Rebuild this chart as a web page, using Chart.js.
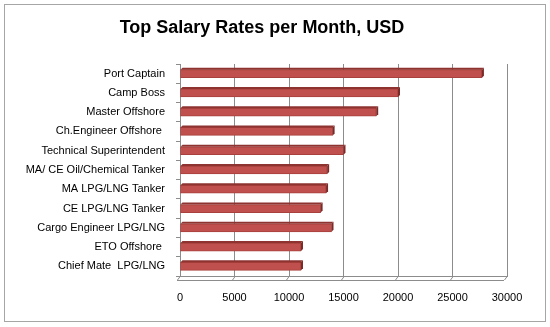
<!DOCTYPE html>
<html>
<head>
<meta charset="utf-8">
<script src="https://cdn.jsdelivr.net/npm/chart.js@4/dist/chart.umd.min.js"></script>
<style>
  html, body { margin: 0; padding: 0; background: #fff; }
  #wrap { width: 550px; height: 327px; }
</style>
</head>
<body>
<div id="wrap"><canvas id="chart" width="550" height="327"></canvas></div>
<script>
// data
const roles = [
  'Port Captain',
  'Camp Boss',
  'Master Offshore',
  'Ch.Engineer Offshore ',
  'Technical Superintendent',
  'MA/ CE Oil/Chemical Tanker',
  'MA LPG/LNG Tanker',
  'CE LPG/LNG Tanker',
  'Cargo Engineer LPG/LNG',
  'ETO Offshore ',
  'Chief Mate  LPG/LNG'
];
const salaries = [27700, 20000, 18000, 14000, 15000, 13500, 13400, 12900, 13900, 11100, 11100];
const xTicks = [0, 5000, 10000, 15000, 20000, 25000, 30000];

const FONT = 'Liberation Sans';
const GRID = '#8c8c8c';

// frame round the whole chart, like the Excel chart area
const frame = {
  id: 'frame',
  beforeDraw(chart) {
    const ctx = chart.ctx;
    ctx.save();
    ctx.fillStyle = '#fff';
    ctx.fillRect(0, 0, chart.width, chart.height);
    ctx.strokeStyle = '#a6a6a6';
    ctx.lineWidth = 1;
    ctx.strokeRect(4.5, 4.5, 541, 317);
    ctx.restore();
  }
};

// fake 3d: top strip and right cap on every bar, little floor diagonals
const depth = {
  id: 'depth',
  beforeDatasetsDraw(chart) {
    const ctx = chart.ctx;
    const area = chart.chartArea;
    const xs = chart.scales.x;
    ctx.save();
    ctx.strokeStyle = GRID;
    ctx.lineWidth = 1;
    xTicks.forEach(v => {
      const px = Math.round(xs.getPixelForValue(v)) + 0.5;
      ctx.beginPath();
      ctx.moveTo(px, area.bottom);
      ctx.lineTo(px - 3, area.bottom + 4);
      ctx.stroke();
    });
    ctx.beginPath();
    ctx.moveTo(area.left - 3, area.bottom + 4.5);
    ctx.lineTo(area.right - 3, area.bottom + 4.5);
    ctx.stroke();
    ctx.restore();
  },
  afterDatasetsDraw(chart) {
    const ctx = chart.ctx;
    const meta = chart.getDatasetMeta(0);
    ctx.save();
    meta.data.forEach(bar => {
      const p = bar.getProps(['x', 'y', 'base', 'height'], true);
      const top = p.y - p.height / 2;
      const bot = p.y + p.height / 2;
      // top face
      ctx.fillStyle = '#8e3330';
      ctx.beginPath();
      ctx.moveTo(p.base, top);
      ctx.lineTo(p.base + 2, top - 2);
      ctx.lineTo(p.x + 2, top - 2);
      ctx.lineTo(p.x, top);
      ctx.closePath();
      ctx.fill();
      // right cap
      ctx.fillStyle = '#7a2a27';
      ctx.beginPath();
      ctx.moveTo(p.x, top);
      ctx.lineTo(p.x + 2, top - 2);
      ctx.lineTo(p.x + 2, bot - 2);
      ctx.lineTo(p.x, bot);
      ctx.closePath();
      ctx.fill();
    });
    ctx.restore();
  }
};

new Chart(document.getElementById('chart'), {
  type: 'bar',
  data: {
    labels: roles,
    datasets: [{
      data: salaries,
      backgroundColor: '#c0504d',
      borderColor: '#a9403d',
      borderWidth: 1,
      borderSkipped: false,
      barThickness: 8
    }]
  },
  options: {
    indexAxis: 'y',
    responsive: false,
    animation: false,
    layout: { padding: { left: 17, right: 43, top: 0, bottom: 8 } },
    plugins: {
      legend: { display: false },
      tooltip: { enabled: false },
      title: {
        display: true,
        text: 'Top Salary Rates per Month, USD',
        color: '#000',
        font: { family: FONT, size: 18, weight: 'bold' },
        padding: { top: 17, bottom: 25.4 }
      }
    },
    scales: {
      x: {
        min: 0,
        max: 30000,
        afterBuildTicks: s => { s.ticks = xTicks.map(v => ({ value: v })); },
        ticks: {
          color: '#000',
          font: { family: FONT, size: 11 },
          padding: 15,
          callback: v => String(v)
        },
        grid: { color: GRID, drawTicks: false },
        border: { color: GRID },
        afterFit: s => { s.height = 43; }
      },
      y: {
        ticks: {
          color: '#000',
          font: { family: FONT, size: 11 },
          padding: 11
        },
        grid: { drawOnChartArea: false, offset: true, tickLength: 4, color: GRID },
        border: { color: GRID },
        afterFit: s => { s.width = 163; }
      }
    }
  },
  plugins: [frame, depth]
});
</script>
</body>
</html>
